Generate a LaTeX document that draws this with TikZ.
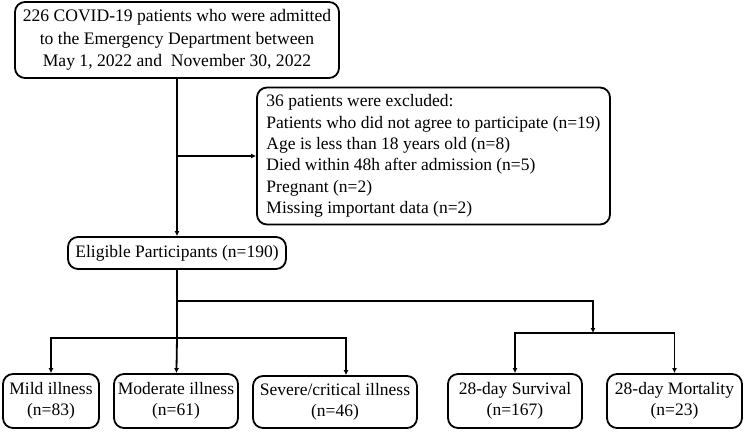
\documentclass[tikz,border=0pt]{standalone}
\usepackage{fontspec}
\setmainfont{Liberation Serif}
\usetikzlibrary{arrows.meta}

\begin{document}
\begin{tikzpicture}[x=1pt, y=-1pt, line width=1.8pt, >={Latex[length=5pt,width=5pt]},
  box/.style={draw, rectangle, rounded corners=10pt, align=center, inner sep=0pt, font=\fontsize{17.5}{21}\selectfont}]
\useasboundingbox (0,0) rectangle (744,432);

\node (admitted) [box, minimum width=324pt, minimum height=76pt, font=\fontsize{17.6}{22.5}\selectfont] at (177,40) {226 COVID-19 patients who were admitted\\to the Emergency Department between\\May 1, 2022 and\ \ November 30, 2022};
\node (excluded) [box, align=left, minimum width=353pt, minimum height=137pt, font=\fontsize{17.5}{21.3}\selectfont] at (433.5,156) {36 patients were excluded:\\Patients who did not agree to participate (n=19)\\Age is less than 18 years old (n=8)\\Died within 48h after admission (n=5)\\Pregnant (n=2)\\Missing important data (n=2)};
\node (eligible) [box, minimum width=218pt, minimum height=32pt] at (177,253) {Eligible Participants (n=190)};
\node (mild) [box, minimum width=96pt, minimum height=54pt] at (51,401) {Mild illness\\(n=83)};
\node (moderate) [box, minimum width=124pt, minimum height=54pt] at (176,401) {Moderate illness\\(n=61)};
\node (severe) [box, minimum width=164pt, minimum height=52pt] at (335,402) {Severe/critical illness\\(n=46)};
\node (survival) [box, minimum width=134pt, minimum height=54pt] at (515,401) {28-day Survival\\(n=167)};
\node (mortality) [box, minimum width=135pt, minimum height=54pt] at (674.5,401) {28-day Mortality\\(n=23)};

\coordinate (fork) at (177,301);
\coordinate (grade) at (177,338);
\coordinate (outcome) at (593,333);

\draw[->] (admitted) -- (eligible);
\draw[->] (admitted.south |- excluded.west) -- (excluded.west);
\draw (eligible) -- (grade);
\draw[->] (grade) -- (moderate);
\draw[->] (grade) -| (mild);
\draw[->] (grade) -| ([xshift=11pt]severe.north);
\draw[->] (fork) -| (outcome);
\draw[->] (outcome) -| (survival);
\draw[->] (outcome) -| (mortality);
\end{tikzpicture}
\end{document}
